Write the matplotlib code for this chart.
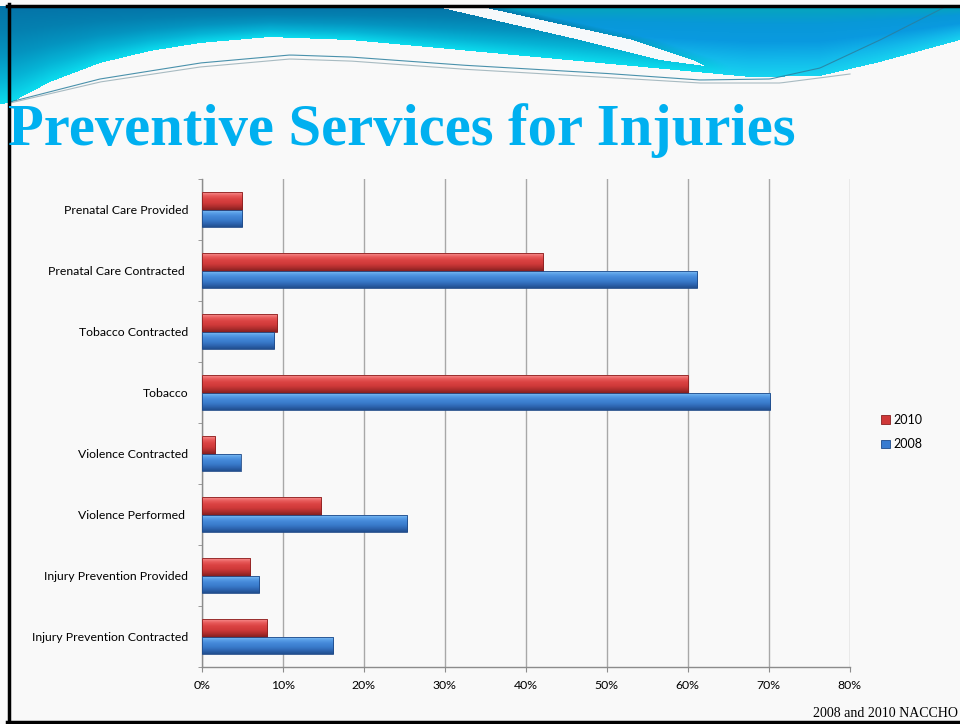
import numpy as np
import matplotlib
matplotlib.use("Agg")
import matplotlib.pyplot as plt
from matplotlib.patches import Patch
from matplotlib.colors import LinearSegmentedColormap, to_rgb

# survey results, share of local health departments (%)
categories = [
    "Prenatal Care Provided",
    "Prenatal Care Contracted ",
    "Tobacco Contracted",
    "Tobacco",
    "Violence Contracted",
    "Violence Performed ",
    "Injury Prevention Provided",
    "Injury Prevention Contracted",
]
pct_2010 = [5.0, 42.1, 9.3, 60.0, 1.7, 14.7, 6.0, 8.1]
pct_2008 = [5.0, 61.2, 8.9, 70.2, 4.8, 25.4, 7.1, 16.2]
series_labels = ["2010", "2008"]
x_ticks = [0, 10, 20, 30, 40, 50, 60, 70, 80]

title = "Preventive Services for Injuries"
source = "2008 and 2010 NACCHO"

W, H = 960, 724
fig = plt.figure(figsize=(W / 100, H / 100), dpi=100, facecolor="#f9f9f9")

# ---- slide background: wave header + frame, in pixel coordinates ----
bg = fig.add_axes([0, 0, 1, 1], zorder=-5)
bg.axis("off")

hh = 112
yy, xx = np.mgrid[0:hh, 0:W] + 0.5
bottom = np.interp(xx, [0, 10, 50, 100, 150, 200, 270, 350, 460, 600, 750, 820, 880, 960],
                   [104, 103, 82, 63, 51, 43, 37, 40, 50, 63, 77, 76, 62, 40])
t = np.clip((yy - 7) / (bottom - 7), 0, 1)
xl = np.interp(yy, [7, 40, 60, 66], [438, 580, 660, 705])
xr = np.interp(yy, [7, 40, 60, 66], [482, 633, 693, 705])


def ramp(stops, t):
    pos = np.linspace(0, 1, len(stops))
    cols = np.array([to_rgb(c) for c in stops])
    return np.stack([np.interp(t, pos, cols[:, k]) for k in range(3)], axis=-1)


left_col = ramp(["#0474a8", "#0480b0", "#0494c0", "#06b4d6", "#0cdcee"], t)
right_col = ramp(["#06a6bc", "#0898d8", "#0a9ae0", "#12b8ea", "#18d4f0"], t)
r = np.clip((xx - xr) / 25.0, 0, 1)[..., None]
img = left_col * (1 - r) + right_col * r
streak = (xx > xl) & (xx < xr) & (yy < 66)
img[streak] = to_rgb("#f6f9fb")
alpha = ((yy >= 6) & (yy < bottom)).astype(float)
rgba = np.dstack([img, alpha])
bg.imshow(rgba, extent=(0, W, hh, 0), aspect="auto", interpolation="bilinear", zorder=1)

wx = np.linspace(10, 945, 500)
line_a = np.interp(wx, [10, 100, 200, 290, 350, 460, 600, 700, 770, 820, 880, 945],
                   [102, 79, 63, 55, 57, 65, 73, 80, 79, 68, 40, 7])
wx_b = np.linspace(10, 850, 500)
line_b = np.interp(wx_b, [10, 100, 200, 290, 350, 460, 600, 700, 780, 850],
                   [103, 82, 67, 59, 61, 69, 77, 83, 83, 74])
bg.plot(wx, line_a, color="#2b7f9e", lw=0.8, alpha=0.85, zorder=2)
bg.plot(wx_b, line_b, color="#9ab0b8", lw=0.8, alpha=0.85, zorder=2)

bg.plot([7, W], [5.5, 5.5], color="black", lw=2.5, zorder=3)
bg.plot([9, 9], [4, 723], color="black", lw=2.5, zorder=3)
bg.plot([7, W], [721.5, 721.5], color="black", lw=2.5, zorder=3)

# fix the pixel frame after everything is drawn so autoscaling can't shift it
bg.set_xlim(0, W)
bg.set_ylim(H, 0)

title_txt = fig.text(8 / W, 1 - 145 / H, title, ha="left", va="baseline",
                     fontsize=46, fontweight="bold", family="Liberation Serif",
                     color="#00b0f0")
fig.canvas.draw()
ext = title_txt.get_window_extent()
title_txt.set_fontsize(46 * 787 / ext.width)

fig.text(958 / W, 1 - 717 / H, source, ha="right", va="baseline",
         fontsize=10, family="Liberation Serif", color="black")

# ---- chart ----
ax = fig.add_axes([201.7 / W, 1 - 667.3 / H, 648 / W, 488.3 / H])
ax.set_facecolor("none")

bar_h = 0.2875
pos = np.arange(len(categories))
bars_2010 = ax.barh(pos - bar_h / 2, pct_2010, height=bar_h, facecolor="none",
                    edgecolor="#8a2020", lw=0.6, zorder=4)
bars_2008 = ax.barh(pos + bar_h / 2, pct_2008, height=bar_h, facecolor="none",
                    edgecolor="#1f4a88", lw=0.6, zorder=4)

red_cmap = LinearSegmentedColormap.from_list(
    "red_bevel", ["#f79090", "#e85a5a", "#da4242", "#d03a3a", "#b02e2e", "#852020"])
blue_cmap = LinearSegmentedColormap.from_list(
    "blue_bevel", ["#92caf8", "#5aa0e8", "#4488d8", "#3a7ccc", "#2e66b2", "#214e8e"])
grad = np.linspace(0, 1, 64).reshape(-1, 1)

for bars, cmap in [(bars_2010, red_cmap), (bars_2008, blue_cmap)]:
    for p in bars:
        x0, y0 = p.get_x(), p.get_y()
        w, h = p.get_width(), p.get_height()
        im = ax.imshow(grad, cmap=cmap, aspect="auto", interpolation="bilinear",
                       extent=(x0, x0 + w, y0 + h, y0), zorder=3)
        im.set_clip_path(p)

ax.set_xlim(0, 80)
ax.set_ylim(len(categories) - 0.5, -0.5)
ax.set_aspect("auto")

ax.set_xticks(x_ticks)
ax.set_xticklabels([f"{v}%" for v in x_ticks])
ax.set_yticks(pos)
ax.set_yticklabels(categories)
ax.set_yticks(np.arange(len(categories) + 1) - 0.5, minor=True)

ax.grid(axis="x", color="#a8a8a8", lw=1.0, zorder=0)
ax.set_axisbelow(True)
for side in ["top", "right"]:
    ax.spines[side].set_visible(False)
for side in ["left", "bottom"]:
    ax.spines[side].set_color("#8c8c8c")
    ax.spines[side].set_linewidth(1.0)

ax.tick_params(axis="y", which="major", length=0, pad=9.8, labelsize=8.8)
ax.tick_params(axis="y", which="minor", length=3, color="#8c8c8c", direction="out")
ax.tick_params(axis="x", length=3.6, color="#8c8c8c", pad=5.5, labelsize=8.8)
for lbl in ax.get_xticklabels() + ax.get_yticklabels():
    lbl.set_family("Lato")

handles = [Patch(facecolor="#d03838", edgecolor="#8a2020", lw=0.6),
           Patch(facecolor="#3a7cd0", edgecolor="#1f4a88", lw=0.6)]
leg = fig.legend(handles, series_labels, loc="center left",
                 bbox_to_anchor=(881 / W, 1 - 432 / H), frameon=False,
                 handlelength=0.7, handleheight=0.7, handletextpad=0.3,
                 labelspacing=1.0, borderpad=0, borderaxespad=0,
                 prop={"family": "Lato", "size": 9})

fig.savefig("out.png", dpi=100, facecolor=fig.get_facecolor())
